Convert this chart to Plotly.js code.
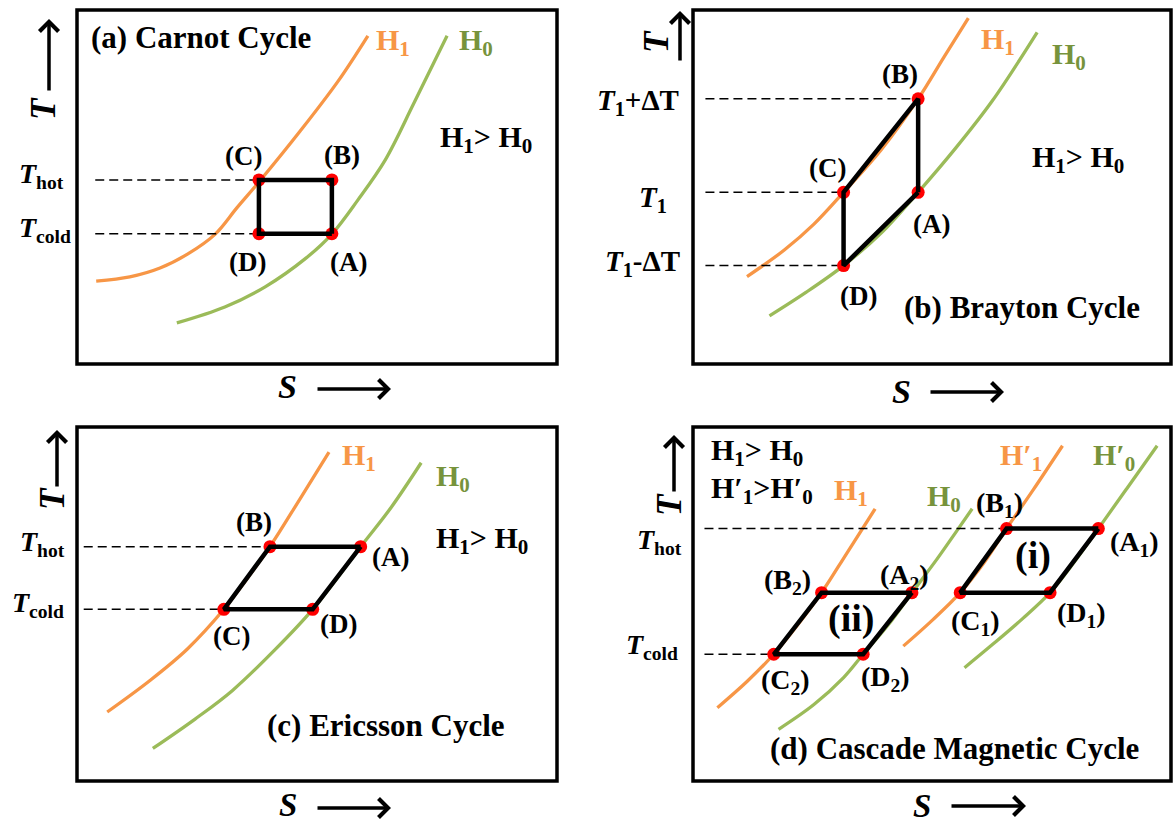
<!DOCTYPE html>
<html>
<head>
<meta charset="utf-8">
<script src="https://cdn.plot.ly/plotly-3.0.1.min.js"></script>
<style>
  html, body { margin: 0; padding: 0; background: #fff; }
  #chart { width: 1174px; height: 823px; }
</style>
</head>
<body>
<div id="chart"></div>
<script>
// ---- T-S diagrams of four magnetic refrigeration cycles (arbitrary units, 0-100) ----

// (a) Carnot cycle
const carnotS_H1 = [4.0, 11.0, 17.3, 23.1, 28.8, 33.3, 37.9, 46.5, 54.4, 60.6];
const carnotT_H1 = [23.4, 24.6, 27.1, 31.1, 36.7, 44.1, 51.4, 65.8, 79.9, 92.7];
const carnotS_H0 = [20.8, 30.8, 39.2, 47.7, 53.1, 58.5, 64.2, 70.2, 77.1];
const carnotT_H0 = [11.6, 16.1, 21.8, 29.9, 36.7, 46.3, 57.6, 73.7, 92.7];
const carnotPoints = ['A', 'B', 'C', 'D'];
const carnotS = [53.1, 53.1, 37.9, 37.9];
const carnotT = [36.8, 52.0, 52.0, 36.8];

// (b) Brayton cycle
const braytonS_H1 = [11.3, 19.1, 25.3, 31.5, 39.3, 47.1, 52.5, 57.6];
const braytonT_H1 = [24.7, 32.2, 39.5, 48.5, 60.4, 74.9, 86.7, 97.7];
const braytonS_H0 = [16.0, 23.7, 31.5, 39.3, 47.1, 54.9, 62.7, 72.0];
const braytonT_H0 = [13.6, 20.3, 27.8, 36.9, 48.5, 60.9, 74.5, 93.7];
const braytonPoints = ['A', 'B', 'C', 'D'];
const braytonS = [47.1, 47.1, 31.5, 31.5];
const braytonT = [48.5, 74.9, 48.5, 27.8];

// (c) Ericsson cycle
const ericssonS_H1 = [6.3, 15.2, 23.0, 30.6, 35.6, 40.2, 46.6, 52.5];
const ericssonT_H1 = [19.5, 28.4, 37.3, 48.5, 57.5, 66.2, 80.0, 92.9];
const ericssonS_H0 = [15.8, 24.6, 32.4, 41.1, 49.1, 59.1, 65.4, 71.7];
const ericssonT_H0 = [9.2, 17.5, 25.6, 36.9, 48.5, 66.2, 77.2, 89.9];
const ericssonPoints = ['A', 'B', 'C', 'D'];
const ericssonS = [59.1, 40.2, 30.6, 49.1];
const ericssonT = [66.2, 66.2, 48.5, 48.5];

// (d) Cascade magnetic cycle: stage (ii) on H1/H0, stage (i) on H'1/H'0
const cascadeS_H1 = [5.1, 11.3, 16.9, 21.8, 26.9, 32.2, 38.1];
const cascadeT_H1 = [20.7, 28.1, 35.8, 43.9, 53.2, 64.4, 76.9];
const cascadeS_H0 = [17.9, 25.3, 31.5, 35.6, 40.9, 45.8, 51.0, 54.9, 58.4];
const cascadeT_H0 = [14.6, 21.6, 29.2, 35.8, 44.2, 53.2, 62.6, 70.1, 76.9];
const cascadeS_H1p = [44.0, 50.2, 55.9, 61.1, 65.6, 71.2, 77.3];
const cascadeT_H1p = [38.1, 45.6, 53.2, 62.1, 71.3, 82.3, 94.7];
const cascadeS_H0p = [56.8, 62.7, 68.9, 74.7, 79.8, 84.8, 90.7, 97.1];
const cascadeT_H0p = [32.0, 38.6, 45.8, 53.2, 61.9, 71.3, 82.5, 94.7];
const stage1Points = ['A1', 'B1', 'C1', 'D1'];
const stage1S = [84.8, 65.6, 55.9, 74.7];
const stage1T = [71.3, 71.3, 53.2, 53.2];
const stage2Points = ['A2', 'B2', 'C2', 'D2'];
const stage2S = [45.8, 26.9, 16.9, 35.6];
const stage2T = [53.2, 53.2, 35.8, 35.8];

// ---- page geometry (pixels) ----
const W = 1174, H = 823;
const FONT = 'Liberation Serif, Times New Roman, serif';
const ORANGE = '#F79646', GREEN = '#9BBB59', GREEN_TXT = '#77933C';
const boxes = [[77, 10, 557, 364], [693, 10, 1171, 364], [77, 427, 557, 781], [693, 427, 1171, 781]];

const traces = [];
function axisIds(i) {
  const n = i === 0 ? '' : String(i + 1);
  return { xaxis: 'x' + n, yaxis: 'y' + n };
}
function curve(i, s, t, color) {
  traces.push(Object.assign({ x: s, y: t, type: 'scatter', mode: 'lines',
    line: { color: color, width: 3.3, shape: 'spline', smoothing: 1 }, hoverinfo: 'skip' }, axisIds(i)));
}
function levels(i, s0, sEnd, tLev) {
  const xs = [], ys = [];
  tLev.forEach((t, k) => { xs.push(s0, sEnd[k], null); ys.push(t, t, null); });
  traces.push(Object.assign({ x: xs, y: ys, type: 'scatter', mode: 'lines',
    line: { color: 'black', width: 1.5, dash: '9px,5px' }, hoverinfo: 'skip' }, axisIds(i)));
}
function cycle(i, s, t) {
  traces.push(Object.assign({ x: s, y: t, type: 'scatter', mode: 'markers',
    marker: { color: '#FF0000', size: 13 }, hoverinfo: 'skip', cliponaxis: false }, axisIds(i)));
  traces.push(Object.assign({ x: s.concat([s[0]]), y: t.concat([t[0]]), type: 'scatter', mode: 'lines',
    line: { color: 'black', width: 4.5 }, hoverinfo: 'skip', cliponaxis: false }, axisIds(i)));
}

// (a)
curve(0, carnotS_H1, carnotT_H1, ORANGE);
curve(0, carnotS_H0, carnotT_H0, GREEN);
levels(0, 3.8, [carnotS[2], carnotS[3]], [carnotT[2], carnotT[3]]);
cycle(0, carnotS, carnotT);
// (b)
curve(1, braytonS_H1, braytonT_H1, ORANGE);
curve(1, braytonS_H0, braytonT_H0, GREEN);
levels(1, 2.6, [braytonS[1], braytonS[2], braytonS[3]], [braytonT[1], braytonT[2], braytonT[3]]);
cycle(1, braytonS, braytonT);
// (c)
curve(2, ericssonS_H1, ericssonT_H1, ORANGE);
curve(2, ericssonS_H0, ericssonT_H0, GREEN);
levels(2, 1.4, [ericssonS[1], ericssonS[2]], [ericssonT[1], ericssonT[2]]);
cycle(2, ericssonS, ericssonT);
// (d)
curve(3, cascadeS_H1, cascadeT_H1, ORANGE);
curve(3, cascadeS_H0, cascadeT_H0, GREEN);
curve(3, cascadeS_H1p, cascadeT_H1p, ORANGE);
curve(3, cascadeS_H0p, cascadeT_H0p, GREEN);
levels(3, 2.4, [stage1S[1], stage2S[2]], [stage1T[1], stage2T[2]]);
cycle(3, stage1S, stage1T);
cycle(3, stage2S, stage2T);

// ---- axes and frames ----
const layout = {
  width: W, height: H, margin: { l: 0, r: 0, t: 0, b: 0 },
  paper_bgcolor: '#fff', plot_bgcolor: 'rgba(0,0,0,0)', showlegend: false,
  shapes: [], annotations: []
};
boxes.forEach((b, i) => {
  const n = i === 0 ? '' : String(i + 1);
  const ax = { range: [0, 100], showgrid: false, zeroline: false, showticklabels: false, ticks: '', showline: false, fixedrange: true };
  layout['xaxis' + n] = Object.assign({}, ax, { domain: [b[0] / W, b[2] / W], anchor: 'y' + n });
  layout['yaxis' + n] = Object.assign({}, ax, { domain: [1 - b[3] / H, 1 - b[1] / H], anchor: 'x' + n });
  layout.shapes.push({ type: 'rect', xref: 'x' + n + ' domain', yref: 'y' + n + ' domain',
    x0: 0, x1: 1, y0: 0, y1: 1, line: { color: 'black', width: 3.5 }, layer: 'above' });
});

// ---- text ----
function lab(text, x, y, size, o) {
  o = o || {};
  layout.annotations.push({ xref: 'paper', yref: 'paper', x: x / W, y: 1 - y / H,
    text: '<b>' + text + '</b>', showarrow: false,
    font: { family: FONT, size: size, color: o.color || 'black' },
    xanchor: o.xa || 'center', yanchor: 'middle', textangle: o.angle || 0 });
}
function arrow(x0, y0, x1, y1) {
  layout.annotations.push({ xref: 'paper', yref: 'paper', x: x1 / W, y: 1 - y1 / H,
    ax: x0 - x1, ay: y0 - y1, axref: 'pixel', ayref: 'pixel', text: '', showarrow: true,
    arrowhead: 4, arrowsize: 1.05, arrowwidth: 3.5, arrowcolor: 'black' });
}
const H1 = 'H<sub>1</sub>', H0 = 'H<sub>0</sub>';
const H1p = 'H\u2032<sub>1</sub>', H0p = 'H\u2032<sub>0</sub>';
const Tit = '<i>T</i>';
const PT = 27, PTS = 28;

// (a)
lab('(a) Carnot Cycle', 89, 38, 31, { xa: 'left' });
lab(H1, 374, 42, 30, { xa: 'left', color: ORANGE });
lab(H0, 457, 42, 30, { xa: 'left', color: GREEN_TXT });
lab(H1 + '&gt; ' + H0, 438, 139, 30, { xa: 'left' });
lab('(C)', 243, 156, PT); lab('(B)', 342, 155, PT);
lab('(D)', 247, 262, PT); lab('(A)', 348, 262, PT);
lab(Tit + '<sub>hot</sub>', 17, 175, 28, { xa: 'left' });
lab(Tit + '<sub>cold</sub>', 17, 230, 28, { xa: 'left' });
lab(Tit, 44, 109, 35, { angle: -90 });
arrow(49, 92, 49, 19);
lab('<i>S</i>', 287, 387, 34);
arrow(316, 389, 391, 389);

// (b)
lab('(b) Brayton Cycle', 1022, 307, 31);
lab(H1, 979, 41, 30, { xa: 'left', color: ORANGE });
lab(H0, 1050, 56, 30, { xa: 'left', color: GREEN_TXT });
lab(H1 + '&gt; ' + H0, 1030, 159, 30, { xa: 'left' });
lab('(B)', 900, 74, PT); lab('(C)', 827, 168, PT);
lab('(A)', 931, 224, PT); lab('(D)', 858, 296, PT);
lab(Tit + '<sub>1</sub>+\u0394T', 681, 102, 29, { xa: 'right' });
lab(Tit + '<sub>1</sub>', 669, 199, 29, { xa: 'right' });
lab(Tit + '<sub>1</sub>-\u0394T', 682, 263, 29, { xa: 'right' });
lab(Tit, 656, 42, 35, { angle: -90 });
arrow(680, 62, 680, 11);
lab('<i>S</i>', 901, 391, 34);
arrow(929, 392, 1004, 392);

// (c)
lab('(c) Ericsson Cycle', 386, 725, 31);
lab(H1, 340, 457, 30, { xa: 'left', color: ORANGE });
lab(H0, 434, 478, 30, { xa: 'left', color: GREEN_TXT });
lab(H1 + '&gt; ' + H0, 434, 540, 30, { xa: 'left' });
lab('(B)', 254, 522, PT); lab('(A)', 390, 557, PT);
lab('(C)', 232, 636, PT); lab('(D)', 338, 624, PT);
lab(Tit + '<sub>hot</sub>', 18, 543, 28, { xa: 'left' });
lab(Tit + '<sub>cold</sub>', 10, 604, 28, { xa: 'left' });
lab(Tit, 53, 499, 35, { angle: -90 });
arrow(57, 488, 57, 430);
lab('<i>S</i>', 288, 805, 33);
arrow(316, 808, 391, 808);

// (d)
lab('(d) Cascade Magnetic Cycle', 954, 748, 31);
lab(H1 + '&gt; ' + H0, 709, 452, 30, { xa: 'left' });
lab(H1p + '&gt;' + H0p, 709, 490, 30, { xa: 'left' });
lab(H1, 832, 492, 30, { xa: 'left', color: ORANGE });
lab(H0, 925, 498, 30, { xa: 'left', color: GREEN_TXT });
lab(H1p, 998, 457, 30, { xa: 'left', color: ORANGE });
lab(H0p, 1091, 457, 30, { xa: 'left', color: GREEN_TXT });
lab('(B<sub>1</sub>)', 999, 505, PTS); lab('(A<sub>1</sub>)', 1134, 543, PTS);
lab('(C<sub>1</sub>)', 975, 622, PTS); lab('(D<sub>1</sub>)', 1081, 614, PTS);
lab('(B<sub>2</sub>)', 787, 581, PTS); lab('(A<sub>2</sub>)', 904, 576, PTS);
lab('(C<sub>2</sub>)', 785, 681, PTS); lab('(D<sub>2</sub>)', 885, 678, PTS);
lab('(i)', 1033, 555, 38); lab('(ii)', 851, 618, 38);
lab(Tit + '<sub>hot</sub>', 635, 541, 28, { xa: 'left' });
lab(Tit + '<sub>cold</sub>', 624, 646, 28, { xa: 'left' });
lab(Tit, 670, 505, 35, { angle: -90 });
arrow(674, 493, 674, 435);
lab('<i>S</i>', 922, 806, 33);
arrow(950, 806, 1026, 806);

Plotly.newPlot('chart', traces, layout, { staticPlot: true, displayModeBar: false });
</script>
</body>
</html>
